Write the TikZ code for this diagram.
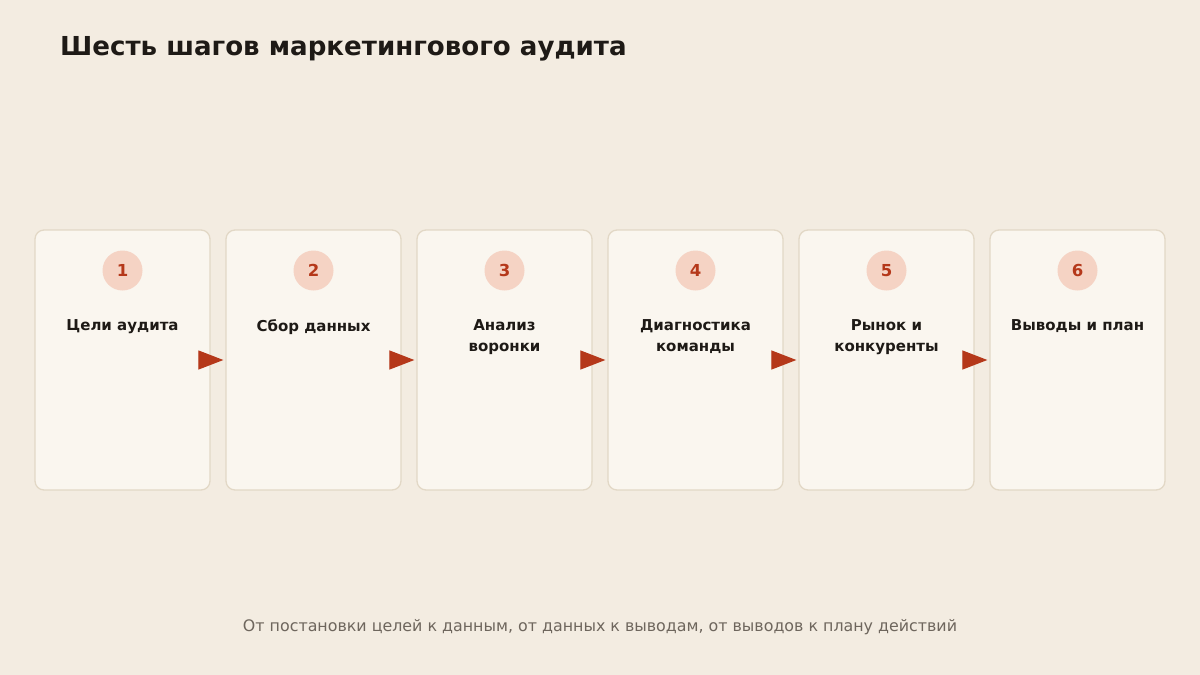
\documentclass[tikz,border=0pt]{standalone}
\usepackage{fontspec}
\setmainfont{DejaVu Sans}
\usetikzlibrary{arrows.meta}
\definecolor{bg}{HTML}{F3ECE1}
\definecolor{cardfill}{HTML}{FAF6EF}
\definecolor{cardline}{HTML}{E2D8C6}
\definecolor{circfill}{HTML}{F5D3C4}
\definecolor{accent}{HTML}{B5381A}
\definecolor{ink}{HTML}{1E1A16}
\definecolor{muted}{HTML}{6E665D}
\tikzset{
  card/.style={draw=cardline, line width=1.3pt, fill=cardfill, rounded corners=9pt,
    minimum width=175pt, minimum height=260pt, inner sep=0pt},
  numcirc/.style={circle, fill=circfill, minimum size=40pt, inner sep=0pt,
    text=accent, font=\fontsize{16.5}{19}\selectfont\bfseries},
  steplabel/.style={text=ink, align=center, font=\fontsize{15}{21}\selectfont\bfseries},
  flow/.style={draw=accent, line width=1.2pt, -{Triangle[length=25pt,width=19pt]}, accent}
}
\begin{document}
\begin{tikzpicture}[x=1pt,y=-1pt]
\fill[bg] (0,0) rectangle (1200,675);
\useasboundingbox (0,0) rectangle (1200,675);
\node[anchor=base west, inner sep=0pt, text=ink, font=\fontsize{26.1}{30}\selectfont\bfseries] (title) at (60,55) {Шесть шагов маркетингового аудита};
\foreach \i/\lab in {1/{Цели аудита},2/{Сбор данных},3/{Анализ\\воронки},4/{Диагностика\\команды},5/{Рынок и\\конкуренты},6/{Выводы и план}}{
  \pgfmathsetmacro{\cx}{122.5+191*(\i-1)}
  \node[card] (c\i) at (\cx,360) {};
  \node[numcirc] (n\i) at (\cx,270.5) {\i};
  \node[steplabel, anchor=north] (l\i) at (\cx,316) {\lab};
}
\foreach \a/\b in {1/2,2/3,3/4,4/5,5/6}{
  \draw[flow] (c\a.east) -- ([xshift=-2pt]c\b.west);
}
\node[text=muted, font=\fontsize{15.85}{18}\selectfont] (foot) at (600,627) {От постановки целей к данным, от данных к выводам, от выводов к плану действий};
\end{tikzpicture}
\end{document}
